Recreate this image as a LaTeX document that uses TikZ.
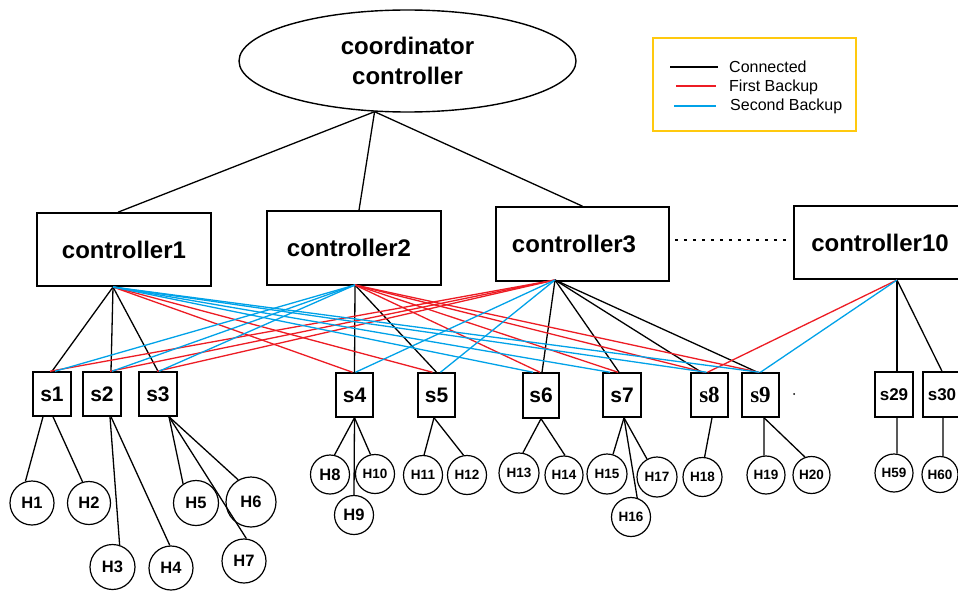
\documentclass[tikz,border=0pt]{standalone}
\usepackage{fontspec}
\setmainfont{Liberation Sans}
\newfontfamily\serifb{Liberation Serif}
\usetikzlibrary{shapes.geometric}
\definecolor{bred}{RGB}{237,28,36}
\definecolor{bblue}{RGB}{0,162,232}
\definecolor{bgold}{RGB}{255,201,14}
\begin{document}
\begin{tikzpicture}[x=1pt,y=-1pt,
  ctrl/.style={draw, line width=1.6pt, rectangle, inner sep=0pt, font=\fontsize{24}{28}\selectfont\bfseries},
  sw/.style={draw, line width=1.5pt, rectangle, inner sep=0pt, minimum width=37pt, minimum height=44pt, font=\fontsize{21}{24}\selectfont\bfseries},
  swsmall/.style={sw, font=\fontsize{17}{20}\selectfont\bfseries},
  host/.style={draw, line width=1.2pt, circle, inner sep=0pt, minimum size=39pt, font=\fontsize{13.5}{15}\selectfont\bfseries},
  hostbig/.style={host, font=\fontsize{16.5}{18}\selectfont\bfseries},
  conn/.style={line width=1.3pt, black},
  fb/.style={line width=1.3pt, bred},
  sb/.style={line width=1.3pt, bblue},
  legtext/.style={anchor=base west, inner sep=0pt, font=\fontsize{16}{18}\selectfont},
]
\useasboundingbox (0,0) rectangle (958,591);
\fill[white] (0,0) rectangle (958,591);

% coordinator
\node[draw, ellipse, line width=1.4pt, inner sep=0pt, minimum width=337pt, minimum height=102pt,
      align=center, font=\fontsize{24}{30}\selectfont\bfseries] (coord) at (407.5,61) {coordinator\\controller};

% legend
\node[draw=bgold, line width=1.8pt, inner sep=0pt, minimum width=203pt, minimum height=93pt] (leg) at (754.5,84.5) {};
\coordinate (l1a) at (670,67); \coordinate (l1b) at (718,67);
\coordinate (l2a) at (676,86); \coordinate (l2b) at (716,86);
\coordinate (l3a) at (674,106); \coordinate (l3b) at (716,106);
\draw[conn] (l1a) -- (l1b);
\draw[fb] (l2a) -- (l2b);
\draw[sb] (l3a) -- (l3b);
\node[legtext] (t1) at (729,72.5) {Connected};
\node[legtext] (t2) at (729,91.5) {First Backup};
\node[legtext] (t3) at (730,111) {Second Backup};

% controllers
\node[ctrl, minimum width=174pt, minimum height=73pt] (c1) at (124,249.5) {controller1};
\node[ctrl, minimum width=174pt, minimum height=74pt] (c2) at (354,248) {\hspace*{-10pt}controller2};
\node[ctrl, minimum width=173pt, minimum height=74pt] (c3) at (582.5,244) {\hspace*{-17pt}controller3};
\node[ctrl, minimum width=172pt, minimum height=73pt] (c10) at (880,242.5) {controller10};

\draw[conn] (coord.237) -- ([xshift=-6pt]c1.north);
\draw[conn] (coord.237) -- ([xshift=5pt]c2.north);
\draw[conn] (coord.237) -- (c3.north);
\draw[line width=1.3pt, dash pattern=on 3pt off 6pt, shorten <=5pt, shorten >=6pt]
  ([yshift=4pt]c3.east) -- ([yshift=2.5pt]c10.west);

\coordinate (a1) at (113,287);
\coordinate (a2) at (355,285);
\coordinate (a3) at (555,280);
\coordinate (a10) at (897,280);

% switches
\node[sw, minimum width=38pt] (s1) at (52,394) {s1};
\node[sw, minimum width=38pt] (s2) at (102,394) {s2};
\node[sw, minimum width=38pt] (s3) at (158,394) {s3};
\node[sw] (s4) at (354.5,395) {s4};
\node[sw] (s5) at (436.5,395) {s5};
\node[sw, minimum width=36pt, minimum height=45pt] (s6) at (541,395.5) {s6};
\node[sw, minimum width=38pt] (s7) at (622,395) {s7};
\node[sw, font=\fontsize{23}{24}\selectfont\serifb\bfseries] (s8) at (709.5,395) {s8};
\node[sw, font=\fontsize{23}{24}\selectfont\serifb\bfseries] (s9) at (760.5,395) {s9};
\node[swsmall, minimum width=38pt, minimum height=45pt] (s29) at (894,394.5) {s29};
\node[swsmall, minimum width=38pt, minimum height=45pt] (s30) at (942,394.5) {s30};
\node[circle, fill, inner sep=0pt, minimum size=2pt] (dot) at (794,394) {};

% connected (black)
\draw[conn] (a1) -- (s1.north);
\draw[conn] (a1) -- ([xshift=9pt]s2.north);
\draw[conn] (a1) -- (s3.north);
\draw[conn] (a2) -- (s4.north);
\draw[conn] (a2) -- (s5.north);
\draw[conn] (a3) -- ([xshift=1pt]s6.north);
\draw[conn] (a3) -- ([xshift=-3pt]s7.north);
\draw[conn] (a3) -- ([xshift=-8pt]s8.north);
\draw[conn] (a3) -- ([xshift=-3pt]s9.north);
\draw[conn] (a10) -- ([xshift=3pt]s29.north);
\draw[conn] (a10) -- (s30.north);

% first backup (red)
\draw[fb] (a1) -- ([xshift=-2pt]s4.north);
\draw[fb] (a1) -- ([xshift=-4pt]s5.north);
\draw[fb] (a2) -- ([xshift=-1pt]s6.north);
\draw[fb] (a2) -- ([xshift=-4pt]s7.north);
\draw[fb] (a2) -- ([xshift=-5pt]s8.north);
\draw[fb] (a2) -- ([xshift=-2pt]s9.north);
\draw[fb] (a3) -- ([xshift=-2pt]s1.north);
\draw[fb] (a3) -- ([xshift=8pt]s2.north);
\draw[fb] (a3) -- ([xshift=-1pt]s3.north);
\draw[fb] (a10) -- ([xshift=-2pt]s8.north);

% second backup (blue)
\draw[sb] (a1) -- ([xshift=-8pt]s6.north);
\draw[sb] (a1) -- ([xshift=-12pt]s7.north);
\draw[sb] (a1) -- ([xshift=-3pt]s8.north);
\draw[sb] (a1) -- ([xshift=-1pt]s9.north);
\draw[sb] (a2) -- ([xshift=3pt]s1.north);
\draw[sb] (a2) -- ([xshift=10pt]s2.north);
\draw[sb] (a2) -- ([xshift=1pt]s3.north);
\draw[sb] (a3) -- ([xshift=1pt]s4.north);
\draw[sb] (a3) -- ([xshift=4pt]s5.north);
\draw[sb] (a10) -- (s9.north);

% hosts
\node[hostbig, minimum size=44pt] (H1) at (32,503) {H1};
\node[hostbig, minimum size=43pt] (H2) at (89,503) {H2};
\node[hostbig, minimum size=45pt] (H3) at (112.5,567) {H3};
\node[hostbig, minimum size=44pt] (H4) at (171,568) {H4};
\node[hostbig, minimum size=45pt] (H5) at (196,503) {H5};
\node[hostbig, minimum size=50pt] (H6) at (251,502) {H6};
\node[hostbig, minimum size=44pt] (H7) at (244,561) {H7};
\node[hostbig] (H8) at (330,474.5) {H8};
\node[hostbig] (H9) at (354,515) {H9};
\node[host] (H10) at (375,474) {H10};
\node[host] (H11) at (423,475) {H11};
\node[host] (H12) at (467,475) {H12};
\node[host, minimum size=40pt] (H13) at (519,473) {H13};
\node[host, minimum size=38pt] (H14) at (564,475) {H14};
\node[host, minimum size=40pt] (H15) at (607,474) {H15};
\node[host] (H16) at (631,517) {H16};
\node[host, minimum size=40pt] (H17) at (657,477) {H17};
\node[host] (H18) at (702.5,477) {H18};
\node[host, minimum size=38pt] (H19) at (766,475) {H19};
\node[host, minimum size=37pt] (H20) at (811.5,475) {H20};
\node[host, minimum size=38pt] (H59) at (894,473) {H59};
\node[host, minimum size=36pt] (H60) at (940,474.5) {H60};

% switch - host
\draw[conn] ([xshift=-9pt]s1.south) -- (H1.107);
\draw[conn] ([xshift=1pt]s1.south) -- (H2.107);
\draw[conn] ([xshift=8pt]s2.south) -- (H3.72);
\draw[conn] ([xshift=9pt]s2.south) -- (H4.93);
\draw[conn] ([xshift=11pt]s3.south) -- (H5.124);
\draw[conn] ([xshift=11pt]s3.south) -- (H6.120);
\draw[conn] ([xshift=11pt]s3.south) -- (H7.84);
\draw[conn] (s4.south) -- (H8.77);
\draw[conn] (s4.south) -- (H9.north);
\draw[conn] (s4.south) -- (H10.103);
\draw[conn] ([xshift=-2.5pt]s5.south) -- (H11.87);
\draw[conn] ([xshift=-2.5pt]s5.south) -- (H12.100);
\draw[conn] (s6.south) -- (H13.79);
\draw[conn] (s6.south) -- (H14.87);
\draw[conn] ([xshift=2pt]s7.south) -- (H15.73);
\draw[conn] ([xshift=2pt]s7.south) -- (H16.72);
\draw[conn] ([xshift=2pt]s7.south) -- (H17);
\draw[conn] ([xshift=2.5pt]s8.south) -- (H18.84);
\draw[conn] ([xshift=3.5pt]s9.south) -- (H19.96);
\draw[conn] ([xshift=3.5pt]s9.south) -- (H20.110);
\draw[conn] ([xshift=3pt]s29.south) -- (H59.81);
\draw[conn] ([xshift=1pt]s30.south) -- (H60.81);
\end{tikzpicture}
\end{document}
